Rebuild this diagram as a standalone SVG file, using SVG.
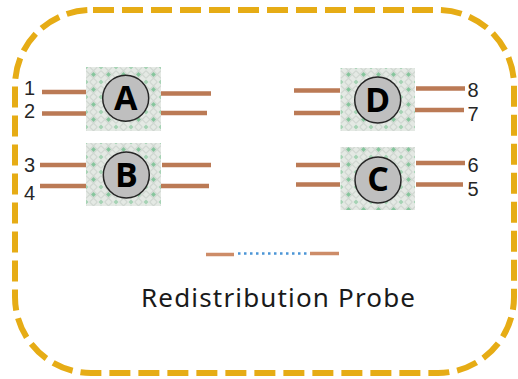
<svg xmlns="http://www.w3.org/2000/svg" width="518" height="379" viewBox="0 0 518 379">
<defs>
<pattern id="plaid" width="15" height="15" patternUnits="userSpaceOnUse" patternTransform="translate(86 67)">
<rect width="15" height="15" fill="#e4e9e4"/>
<path d="M0 3.750L11.250 15M3.750 0L15 11.250M0 11.250L11.250 0M3.750 15L15 3.750" stroke="#d0d7d1" stroke-width="1.100" fill="none"/>
<path d="M7.500 5L10 7.500L7.500 10L5 7.500Z" fill="#86c59c"/>
<path d="M0 -2.500L2.500 0L0 2.500L-2.500 0ZM15 -2.500L17.500 0L15 2.500L12.500 0ZM0 12.500L2.500 15L0 17.500L-2.500 15ZM15 12.500L17.500 15L15 17.500L12.500 15Z" fill="#a6d3b4"/>
</pattern>
</defs>
<style>
.pad{fill:url(#plaid)}
.disc{fill:#bfbfbf;stroke:#262626;stroke-width:1.500}
.letter{font-family:"Open Sans","Noto Sans","Liberation Sans",sans-serif;font-size:34px;font-weight:700;fill:#000;text-anchor:middle}
.num{font-family:"Liberation Sans",Arial,sans-serif;font-size:20px;fill:#262626;text-anchor:middle}
.wire{stroke:#bb7a55;stroke-width:4.500;fill:none}
.thin{stroke:#cd8c68;stroke-width:3.500;fill:none}
.title{font-family:"Noto Sans","Open Sans","Liberation Sans",sans-serif;font-size:26px;fill:#1a1a1a}
</style>
<rect id="frame" x="15" y="10" width="499" height="363" rx="76" ry="76" fill="none" stroke="#e6ac15" stroke-width="6" stroke-dasharray="21 8" stroke-dashoffset="-2"/>
<g id="connectors">
<path class="wire" d="M42 92H86M42 113.500H86M161 93.500H211M161 113H207"/>
<path class="wire" d="M40 165H86M40 186H86M162 165H211M161 186H209"/>
<path class="wire" d="M294 90.500H340M294 113H340M416 88.500H465M415 110H464"/>
<path class="wire" d="M296 165H340M296 184.500H340M416 163H465M416 184.500H463"/>
<path class="thin" d="M206 254.500H234M310 253.500H339"/>
<path d="M238 253.500H310" fill="none" stroke="#4b95d6" stroke-width="2.500" stroke-dasharray="2.500 3.500"/>
</g>
<g id="node-A"><rect class="pad" x="86" y="67" width="75" height="64"/><circle class="disc" cx="125.700" cy="98.300" r="23"/><text class="letter" x="125.700" y="110">A</text></g>
<g id="node-B"><rect class="pad" x="86" y="143" width="75" height="63"/><circle class="disc" cx="126.300" cy="175" r="23"/><text class="letter" x="126.300" y="187">B</text></g>
<g id="node-D"><rect class="pad" x="340.500" y="68" width="74.500" height="63"/><circle class="disc" cx="377.700" cy="100" r="23"/><text class="letter" x="377.700" y="112">D</text></g>
<g id="node-C"><rect class="pad" x="340.500" y="147" width="74.500" height="63"/><circle class="disc" cx="378" cy="180" r="23"/><text class="letter" x="378" y="191">C</text></g>
<g id="labels">
<text class="num" x="29.500" y="95">1</text>
<text class="num" x="29.500" y="118">2</text>
<text class="num" x="29.500" y="172">3</text>
<text class="num" x="29.500" y="200">4</text>
<text class="num" x="473" y="97">8</text>
<text class="num" x="473" y="121">7</text>
<text class="num" x="473" y="172">6</text>
<text class="num" x="473" y="196">5</text>
<text class="title" x="141" y="306.500" textLength="274">Redistribution Probe</text>
</g>
</svg>
